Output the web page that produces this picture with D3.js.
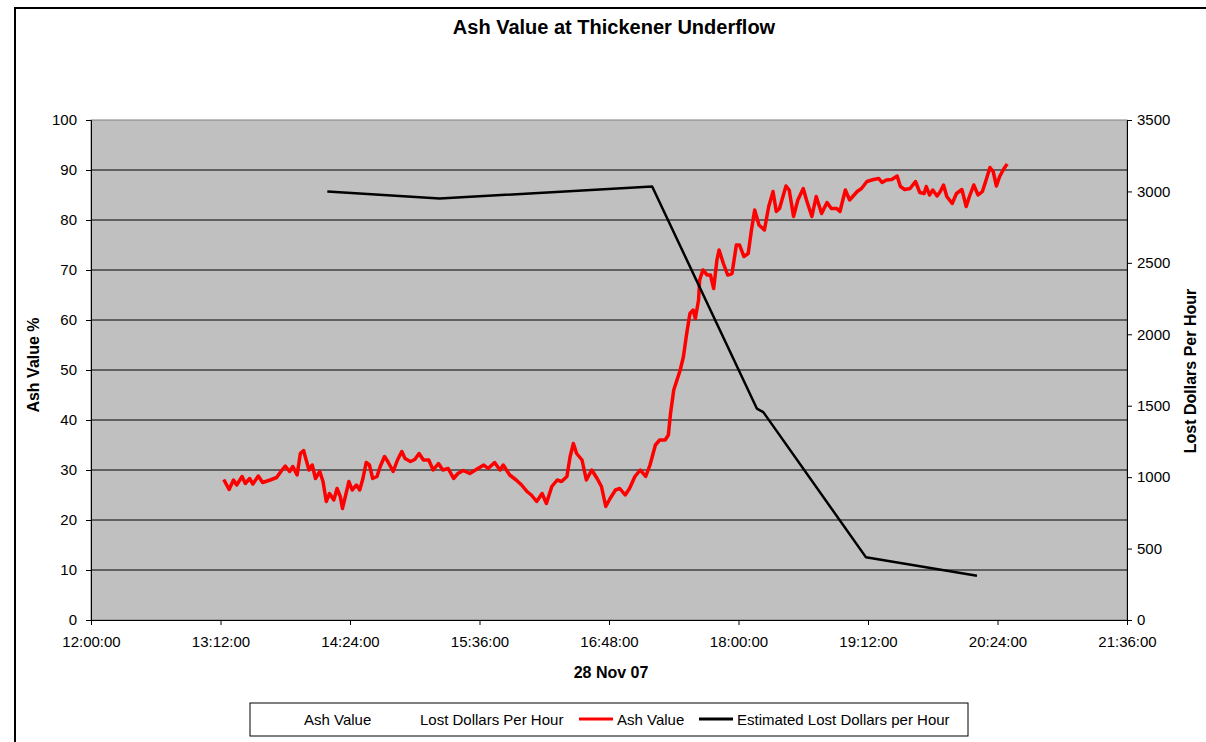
<!DOCTYPE html>
<html>
<head>
<meta charset="utf-8">
<script src="https://cdn.jsdelivr.net/npm/d3@7"></script>
<style>
  body { margin: 0; background: #fff; }
  svg text { font-family: "Liberation Sans", Arial, sans-serif; fill: #000; }
</style>
</head>
<body>
<svg width="1206" height="742"></svg>
<script>
// ash value trace (hours after midnight, %)
const ashTime = [13.23,13.28,13.32,13.35,13.40,13.43,13.47,13.50,13.55,13.59,13.66,13.72,13.77,13.80,13.84,13.87,13.91,13.94,13.97,13.99,
  14.02,14.05,14.08,14.12,14.15,14.18,14.21,14.25,14.28,14.31,14.33,14.36,14.39,14.42,14.46,14.49,14.52,14.55,14.58,14.61,14.65,14.68,14.72,14.75,14.80,14.84,14.88,14.91,14.96,
  15.00,15.04,15.08,15.13,15.17,15.22,15.26,15.31,15.36,15.40,15.45,15.51,15.57,15.64,15.68,15.74,15.79,15.82,15.88,15.94,15.99,
  16.04,16.08,16.13,16.18,16.22,16.27,16.32,16.36,16.41,16.44,16.47,16.50,16.55,16.59,16.64,16.69,16.73,16.77,16.81,16.86,16.90,16.95,16.99,
  17.04,17.09,17.14,17.18,17.23,17.27,17.32,17.35,17.37,17.40,17.43,17.46,17.49,17.52,17.55,17.58,17.60,17.63,17.64,17.67,17.71,17.74,17.77,17.80,17.82,17.86,17.90,17.94,17.98,
  18.01,18.05,18.09,18.12,18.15,18.19,18.24,18.28,18.32,18.35,18.38,18.44,18.47,18.51,18.55,18.60,18.63,18.68,18.72,18.77,18.82,18.86,18.91,18.94,18.99,
  19.03,19.10,19.14,19.19,19.25,19.30,19.33,19.37,19.42,19.47,19.50,19.54,19.59,19.64,19.68,19.72,19.74,19.77,19.80,19.84,19.87,19.90,19.93,19.98,
  20.02,20.07,20.11,20.14,20.18,20.22,20.26,20.29,20.33,20.36,20.39,20.42,20.46,20.49];
const ashValue = [28.1,26.1,28,27,28.7,27.3,28.3,27.2,28.8,27.5,28,28.5,30,30.8,29.7,30.7,29,33.3,33.9,32.3,
  30,31,28.3,29.7,27.7,23.7,25.3,24,26.3,24.7,22.3,25,27.7,26,27,26,28.3,31.5,31,28.3,28.7,30.7,32.7,31.7,29.7,32,33.7,32.3,31.7,
  32.1,33.3,32,32,30,31.3,30,30.3,28.3,29.3,29.9,29.3,30.1,31,30.3,31.5,30,31,29,28,27,
  25.7,25,23.7,25.3,23.3,26.7,28,27.7,28.7,32.7,35.3,33.3,32,28,30,28.3,26.7,22.7,24.3,26,26.3,25,26.3,
  28.7,30,28.7,31,35,36,36,37,41.3,46,48,50,52.7,57.3,61.3,62,60.3,64,68,70,69,69,66.3,72,74,71.3,69,69.3,75,
  75,72.7,73.3,78,82,79,78,82.7,85.7,81.7,82.3,86.8,86,80.7,84,86.3,84,80.7,84.7,81.3,83.5,82.3,82.3,81.7,86,
  84,85.7,86.3,87.7,88.1,88.3,87.5,88,88.1,88.8,86.7,86.1,86.3,87.7,85.5,85.3,86.7,85,86,84.8,85.7,87,84.7,83.3,
  85.3,86.1,82.7,84.7,87,85,85.7,87.7,90.5,89.7,86.8,88.7,90.3,91.2];

// estimated lost dollars per hour
const lostTime = [14.19, 15.23, 17.20, 18.17, 18.23, 19.18, 20.21];
const lostValue = [3000, 2950, 3035, 1480, 1455, 440, 310];

const xTicks = [12, 13.2, 14.4, 15.6, 16.8, 18, 19.2, 20.4, 21.6];
const xTickLabels = ["12:00:00","13:12:00","14:24:00","15:36:00","16:48:00","18:00:00","19:12:00","20:24:00","21:36:00"];
const leftTicks = d3.range(0, 101, 10);
const rightTicks = d3.range(0, 3501, 500);

const svg = d3.select("svg");
const m = { left: 91, right: 1127, top: 120, bottom: 620 };

const x = d3.scaleLinear().domain([12, 21.6]).range([m.left, m.right]);
const yL = d3.scaleLinear().domain([0, 100]).range([m.bottom, m.top]);
const yR = d3.scaleLinear().domain([0, 3500]).range([m.bottom, m.top]);

// outer frame
svg.append("rect")
  .attr("x", 15).attr("y", 8)
  .attr("width", 1300).attr("height", 800)
  .attr("fill", "#fff").attr("stroke", "#000").attr("stroke-width", 2);

// plot area
svg.append("rect")
  .attr("x", m.left).attr("y", m.top)
  .attr("width", m.right - m.left).attr("height", m.bottom - m.top)
  .attr("fill", "#c0c0c0").attr("stroke", "#808080");

// grid
svg.append("g").selectAll("line")
  .data(leftTicks.filter(d => d > 0 && d < 100))
  .join("line")
  .attr("x1", m.left).attr("x2", m.right)
  .attr("y1", d => yL(d)).attr("y2", d => yL(d))
  .attr("stroke", "#000").attr("stroke-width", 1);

// axes
const axL = svg.append("g")
  .attr("transform", `translate(${m.left},0)`)
  .call(d3.axisLeft(yL).tickValues(leftTicks).tickSize(5).tickPadding(9));
const axR = svg.append("g")
  .attr("transform", `translate(${m.right},0)`)
  .call(d3.axisRight(yR).tickValues(rightTicks).tickFormat(d3.format("d")).tickSize(5).tickPadding(5));
const axB = svg.append("g")
  .attr("transform", `translate(0,${m.bottom})`)
  .call(d3.axisBottom(x).tickValues(xTicks).tickFormat((d, i) => xTickLabels[i]).tickSize(5).tickPadding(11));

[axL, axR, axB].forEach(a => {
  a.select(".domain").attr("stroke", "#000");
  a.selectAll(".tick line").attr("stroke", "#000");
  a.selectAll("text").style("font-size", "15px").attr("fill", "#000");
});

// series
const line = (xs, ys, scale) => d3.line()
  .x((d, i) => x(xs[i]))
  .y((d, i) => scale(ys[i]))(ys);

svg.append("path")
  .attr("d", line(ashTime, ashValue, yL))
  .attr("fill", "none").attr("stroke", "#ff0000")
  .attr("stroke-width", 3.5).attr("stroke-linejoin", "round");

svg.append("path")
  .attr("d", line(lostTime, lostValue, yR))
  .attr("fill", "none").attr("stroke", "#000")
  .attr("stroke-width", 2.5).attr("stroke-linejoin", "round");

// titles
svg.append("text")
  .attr("x", 614).attr("y", 34)
  .attr("text-anchor", "middle")
  .style("font-size", "20px").style("font-weight", "bold")
  .text("Ash Value at Thickener Underflow");

svg.append("text")
  .attr("transform", "translate(39,365) rotate(-90)")
  .attr("text-anchor", "middle")
  .style("font-size", "16px").style("font-weight", "bold")
  .text("Ash Value %");

svg.append("text")
  .attr("transform", "translate(1196,371) rotate(-90)")
  .attr("text-anchor", "middle")
  .style("font-size", "16px").style("font-weight", "bold")
  .text("Lost Dollars Per Hour");

svg.append("text")
  .attr("x", 611).attr("y", 678)
  .attr("text-anchor", "middle")
  .style("font-size", "16px").style("font-weight", "bold")
  .text("28 Nov 07");

// legend
const lg = svg.append("g");
lg.append("rect")
  .attr("x", 250).attr("y", 703).attr("width", 718).attr("height", 33)
  .attr("fill", "#fff").attr("stroke", "#000");

const legendItems = [
  { label: "Ash Value", x: 304, color: null },
  { label: "Lost Dollars Per Hour", x: 420, color: null },
  { label: "Ash Value", x: 617, color: "#ff0000" },
  { label: "Estimated Lost Dollars per Hour", x: 737, color: "#000" }
];
legendItems.forEach(it => {
  if (it.color) {
    lg.append("line")
      .attr("x1", it.x - 38).attr("x2", it.x - 4)
      .attr("y1", 719).attr("y2", 719)
      .attr("stroke", it.color).attr("stroke-width", 3);
  }
  lg.append("text")
    .attr("x", it.x).attr("y", 725)
    .style("font-size", "15px")
    .text(it.label);
});
</script>
</body>
</html>
